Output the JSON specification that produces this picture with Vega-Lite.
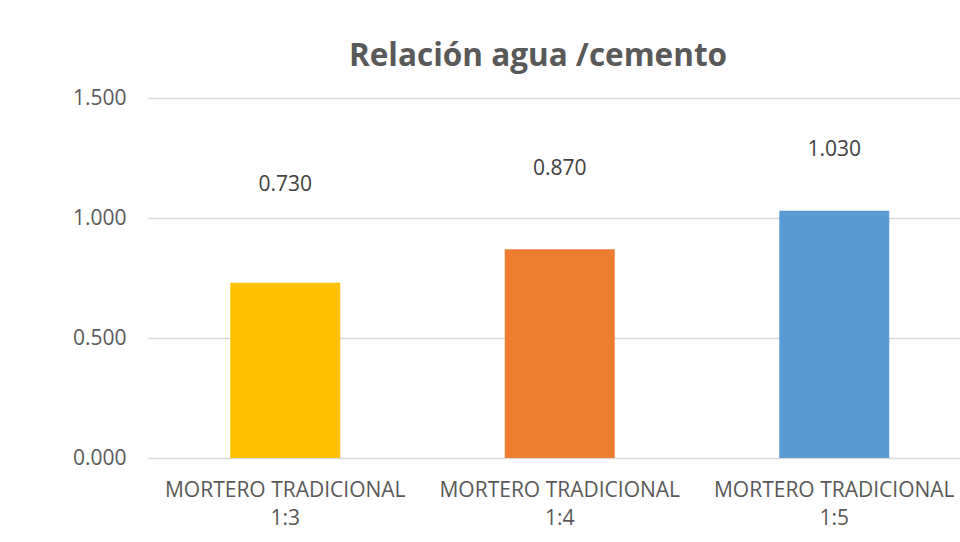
{
  "$schema": "https://vega.github.io/schema/vega-lite/v6.json",
  "width": 812,
  "height": 360,
  "autosize": "none",
  "padding": {"left": 148, "top": 98, "right": 0, "bottom": 84},
  "background": "white",
  "title": {
    "text": "Relación agua /cemento",
    "font": "Open Sans",
    "fontSize": 31.5,
    "fontWeight": "bold",
    "color": "#595959",
    "anchor": "middle",
    "dx": -16,
    "offset": 15
  },
  "data": {
    "values": [
      {"cat": "MORTERO TRADICIONAL|1:3", "value": 0.73},
      {"cat": "MORTERO TRADICIONAL|1:4", "value": 0.87},
      {"cat": "MORTERO TRADICIONAL|1:5", "value": 1.03}
    ]
  },
  "config": {
    "view": {"stroke": null},
    "font": "Open Sans"
  },
  "encoding": {
    "x": {
      "field": "cat",
      "type": "nominal",
      "sort": null,
      "scale": {"range": [0, 823.5], "paddingInner": 0, "paddingOuter": 0},
      "axis": {
        "title": null,
        "labelAngle": 0,
        "labelExpr": "split(datum.label, '|')",
        "labelFont": "Open Sans",
        "labelFontSize": 21,
        "labelColor": "#595959",
        "labelLineHeight": 28,
        "labelPadding": 21,
        "labelLimit": 0,
        "ticks": false,
        "domain": false,
        "grid": false
      }
    }
  },
  "layer": [
    {
      "mark": {"type": "bar", "width": 110},
      "encoding": {
        "y": {
          "field": "value",
          "type": "quantitative",
          "scale": {"domain": [0, 1.5]},
          "axis": {
            "title": null,
            "values": [0, 0.5, 1, 1.5],
            "format": ".3f",
            "labelFont": "Open Sans",
            "labelFontSize": 21,
            "labelColor": "#595959",
            "labelPadding": 22,
            "ticks": false,
            "domain": false,
            "gridColor": "#D9D9D9",
            "gridWidth": 1.5
          }
        },
        "color": {
          "field": "cat",
          "type": "nominal",
          "scale": {"range": ["#FFC000", "#ED7D31", "#5B9BD5"]},
          "legend": null
        }
      }
    },
    {
      "mark": {"type": "text", "font": "Open Sans", "fontSize": 21, "color": "#404040"},
      "encoding": {
        "y": {
          "field": "value",
          "type": "quantitative",
          "scale": {"domain": [-1.603, 1.474]},
          "axis": null
        },
        "text": {"field": "value", "type": "quantitative", "format": ".3f"}
      }
    }
  ],
  "resolve": {"scale": {"y": "independent"}}
}
